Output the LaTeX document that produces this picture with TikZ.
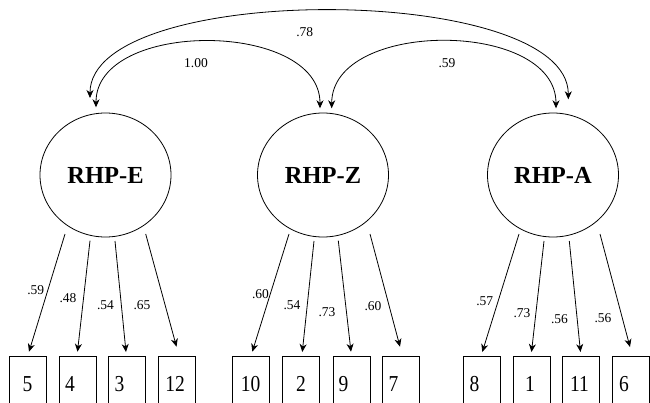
\documentclass[tikz,border=0pt]{standalone}
\usepackage{fontspec}
\setmainfont{Liberation Serif}
\usepackage{graphicx}
\usetikzlibrary{arrows.meta,shapes.geometric}
\newcommand\dg[1]{\scalebox{1}[1.17]{#1}}
\begin{document}
\begin{tikzpicture}[x=1pt,y=-1pt,
  lat/.style={ellipse,draw,line width=0.8pt,minimum width=131pt,minimum height=124pt,inner sep=0pt,font=\fontsize{24.5}{26}\selectfont\bfseries},
  obs/.style={rectangle,draw,line width=0.8pt,minimum width=37pt,minimum height=56pt,inner sep=0pt,anchor=north,font=\fontsize{19.5}{22}\selectfont},
  tipk/.tip={Stealth[length=8pt,width=7pt,inset=2.5pt]},
  load/.style={line width=0.8pt,-tipk},
  cor/.style={line width=0.8pt,tipk-tipk},
  lab/.style={font=\fontsize{13.5}{15}\selectfont,inner sep=0pt}]
\useasboundingbox (0,0) rectangle (650,402);
\clip (0,0) rectangle (650,402);
% latent variables
\node[lat] (E) at (105.5,175) {RHP-E};
\node[lat] (Z) at (323,175) {RHP-Z};
\node[lat] (A) at (553,175) {RHP-A};
% observed variables
\node[obs] (b5)  at (27.5,356)  {\dg{5}};
\node[obs] (b4)  at (77.5,356)  {\dg{4}\kern15pt};
\node[obs] (b3)  at (127,356)   {\dg{3}\kern15pt};
\node[obs] (b12) at (176.5,356) {\dg{12}\kern3pt};
\node[obs] (b10) at (250.5,356) {\dg{10}};
\node[obs] (b2)  at (301,356)   {\dg{2}};
\node[obs] (b9)  at (351.5,356) {\dg{9}\kern16pt};
\node[obs] (b7)  at (400.5,356) {\dg{7}\kern14pt};
\node[obs] (b8)  at (481.5,356) {\dg{8}\kern14pt};
\node[obs] (b1)  at (531.5,356) {\dg{1}\kern3pt};
\node[obs] (b11) at (580.5,356) {\dg{11}\kern2pt};
\node[obs] (b6)  at (630.5,356) {\dg{6}\kern13pt};
% loadings
\draw[load] ([shift={(-40.5,59)}]E.center) -- ([shift={(1.5,-4.3)}]b5.north);
\draw[load] ([shift={(-15.5,65.7)}]E.center) -- ([shift={(0,-4.3)}]b4.north);
\draw[load] ([shift={(9.5,66)}]E.center) -- ([shift={(-1,-4)}]b3.north);
\draw[load] ([shift={(40.2,59)}]E.center) -- ([shift={(0,-9.3)}]b12.north);
\draw[load] ([shift={(-34,59)}]Z.center) -- ([shift={(1.8,-4.3)}]b10.north);
\draw[load] ([shift={(-9,66)}]Z.center) -- ([shift={(1.3,-4)}]b2.north);
\draw[load] ([shift={(15.3,65.7)}]Z.center) -- ([shift={(-0.5,-4.3)}]b9.north);
\draw[load] ([shift={(47,59)}]Z.center) -- ([shift={(-0.5,-9.3)}]b7.north);
\draw[load] ([shift={(-34,59)}]A.center) -- ([shift={(0.8,-4)}]b8.north);
\draw[load] ([shift={(-9,66)}]A.center) -- ([shift={(0,-4)}]b1.north);
\draw[load] ([shift={(16.3,66)}]A.center) -- ([shift={(0,-4)}]b11.north);
\draw[load] ([shift={(47,59)}]A.center) -- ([shift={(-0.5,-9)}]b6.north);
% loading labels
\node[lab] (lE1) at (35.8,290.5) {.59};
\node[lab] (lE2) at (68,298.5) {.48};
\node[lab] (lE3) at (105.5,305.5) {.54};
\node[lab] (lE4) at (142,305) {.65};
\node[lab] (lZ1) at (260.5,294) {.60};
\node[lab] (lZ2) at (292,305) {.54};
\node[lab] (lZ3) at (327,312) {.73};
\node[lab] (lZ4) at (373,306) {.60};
\node[lab] (lA1) at (484.7,301.3) {.57};
\node[lab] (lA2) at (522,312.8) {.73};
\node[lab] (lA3) at (559.5,318.8) {.56};
\node[lab] (lA4) at (603,318) {.56};
% correlations
\draw[cor] ([shift={(-15.5,-77)}]E.center) .. controls +(0,-117) and +(0,-117) .. ([shift={(15.3,-75.7)}]A.center);
\draw[cor] ([shift={(-9.5,-67.7)}]E.center) .. controls +(0,-88) and +(0,-88) .. ([shift={(-3,-66.7)}]Z.center);
\draw[cor] ([shift={(8.7,-66.7)}]Z.center) .. controls +(0,-89) and +(0,-89) .. ([shift={(3,-66.7)}]A.center);
\node[lab] (cEA) at (304.7,31.7) {.78};
\node[lab] (cEZ) at (196,63.3) {1.00};
\node[lab] (cZA) at (447,63.3) {.59};
\end{tikzpicture}
\end{document}
